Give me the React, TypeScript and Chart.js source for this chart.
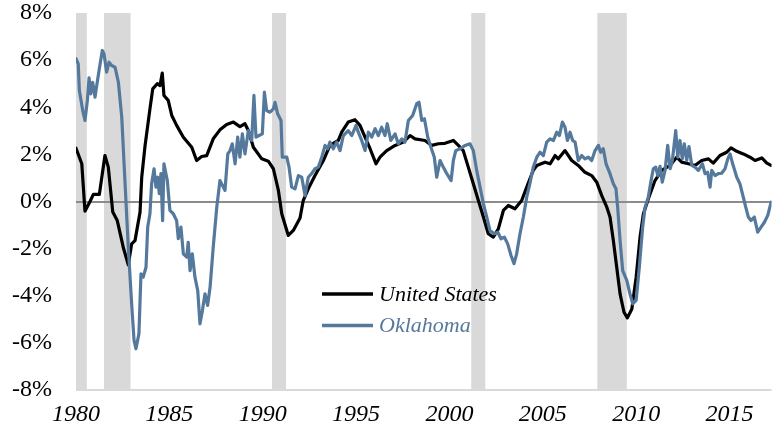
import React, { useEffect, useRef } from 'react';
import { Chart, registerables } from 'chart.js';

Chart.register(...registerables);

// ---------- data ----------
const xTickYears = [1980, 1985, 1990, 1995, 2000, 2005, 2010, 2015];
const yTickValues = [-8, -6, -4, -2, 0, 2, 4, 6, 8];

const recessionStarts = [1980.0, 1981.5, 1990.5, 2001.17, 2007.92];
const recessionEnds = [1980.58, 1982.92, 1991.25, 2001.92, 2009.5];

const seriesNames = ['United States', 'Oklahoma'];

const usYears = [
  1980.00, 1980.31, 1980.48, 1980.75, 1980.93, 1981.25, 1981.55, 1981.73, 1981.97, 1982.21,
  1982.53, 1982.80, 1982.98, 1983.16, 1983.43, 1983.52, 1983.70, 1983.96, 1984.11, 1984.35,
  1984.50, 1984.62, 1984.71, 1984.94, 1985.13, 1985.39, 1985.75, 1986.20, 1986.46, 1986.73,
  1987.00, 1987.35, 1987.71, 1988.07, 1988.43, 1988.78, 1989.05, 1989.23, 1989.50, 1989.95,
  1990.30, 1990.57, 1990.84, 1991.02, 1991.37, 1991.64, 1992.00, 1992.17, 1992.44, 1992.80,
  1993.25, 1993.60, 1994.05, 1994.23, 1994.58, 1994.94, 1995.21, 1995.48, 1995.75, 1996.07,
  1996.28, 1996.64, 1997.09, 1997.53, 1997.89, 1998.16, 1998.69, 1999.05, 1999.41, 1999.76,
  2000.21, 2000.48, 2000.74, 2001.01, 2001.28, 2001.55, 2001.82, 2002.08, 2002.35, 2002.62,
  2002.89, 2003.15, 2003.51, 2003.87, 2004.14, 2004.49, 2004.68, 2005.12, 2005.39, 2005.66,
  2005.83, 2006.19, 2006.55, 2006.90, 2007.26, 2007.62, 2007.89, 2008.16, 2008.43, 2008.60,
  2008.78, 2008.96, 2009.14, 2009.35, 2009.53, 2009.77, 2010.00, 2010.21, 2010.39, 2010.65,
  2011.01, 2011.37, 2011.82, 2012.17, 2012.44, 2012.80, 2013.15, 2013.51, 2013.87, 2014.13,
  2014.49, 2014.85, 2015.08, 2015.39, 2015.74, 2016.10, 2016.37, 2016.73, 2017.00, 2017.23,
];
const usValues = [
  2.26, 1.6, -0.41, 0.0, 0.3, 0.3, 1.95, 1.46, -0.45, -0.81,
  -1.94, -2.69, -1.8, -1.66, -0.45, 1.03, 2.38, 3.93, 4.78, 5.0,
  4.92, 5.45, 4.5, 4.29, 3.65, 3.23, 2.73, 2.3, 1.74, 1.91,
  1.95, 2.66, 3.04, 3.27, 3.37, 3.18, 3.3, 3.01, 2.3, 1.81,
  1.71, 1.39, 0.47, -0.52, -1.44, -1.23, -0.7, 0.04, 0.54, 1.1,
  1.74, 2.38, 2.59, 2.94, 3.37, 3.47, 3.23, 2.73, 2.24, 1.6,
  1.88, 2.16, 2.38, 2.52, 2.8, 2.66, 2.59, 2.38, 2.45, 2.47,
  2.59, 2.38, 2.16, 1.46, 0.75, 0.04, -0.66, -1.37, -1.51, -1.16,
  -0.38, -0.17, -0.31, 0.04, 0.61, 1.32, 1.53, 1.67, 1.6, 1.95,
  1.81, 2.16, 1.74, 1.53, 1.24, 1.1, 0.82, 0.25, -0.24, -0.66,
  -1.66, -2.79, -3.92, -4.7, -4.94, -4.56, -3.21, -1.51, -0.52, 0.11,
  0.89, 1.32, 1.53, 1.88, 1.67, 1.6, 1.53, 1.74, 1.81, 1.63,
  1.95, 2.09, 2.28, 2.13, 2.02, 1.88, 1.74, 1.85, 1.63, 1.53,
];

const okYears = [
  1980.00, 1980.12, 1980.18, 1980.36, 1980.48, 1980.61, 1980.70, 1980.79, 1980.89, 1981.02,
  1981.11, 1981.29, 1981.41, 1981.50, 1981.64, 1981.77, 1981.91, 1982.09, 1982.27, 1982.45,
  1982.62, 1982.80, 1982.98, 1983.11, 1983.21, 1983.37, 1983.48, 1983.60, 1983.75, 1983.84,
  1983.96, 1984.05, 1984.18, 1984.28, 1984.38, 1984.46, 1984.55, 1984.64, 1984.71, 1984.89,
  1985.03, 1985.21, 1985.39, 1985.48, 1985.62, 1985.75, 1985.93, 1986.01, 1986.11, 1986.23,
  1986.37, 1986.52, 1986.64, 1986.77, 1986.91, 1987.05, 1987.18, 1987.35, 1987.54, 1987.71,
  1987.89, 1987.98, 1988.13, 1988.25, 1988.37, 1988.52, 1988.66, 1988.78, 1988.91, 1989.05,
  1989.23, 1989.41, 1989.53, 1989.64, 1989.80, 1989.98, 1990.09, 1990.21, 1990.39, 1990.57,
  1990.66, 1990.80, 1990.98, 1991.05, 1991.29, 1991.41, 1991.55, 1991.73, 1991.91, 1992.09,
  1992.27, 1992.44, 1992.62, 1992.80, 1992.98, 1993.16, 1993.34, 1993.48, 1993.60, 1993.78,
  1993.96, 1994.14, 1994.32, 1994.58, 1994.77, 1995.00, 1995.12, 1995.30, 1995.48, 1995.66,
  1995.84, 1996.02, 1996.19, 1996.37, 1996.55, 1996.67, 1996.86, 1997.09, 1997.26, 1997.45,
  1997.62, 1997.80, 1998.03, 1998.25, 1998.37, 1998.52, 1998.66, 1998.84, 1999.01, 1999.19,
  1999.32, 1999.50, 1999.67, 1999.86, 2000.09, 2000.21, 2000.34, 2000.57, 2000.84, 2001.10,
  2001.28, 2001.46, 2001.64, 2001.82, 2002.00, 2002.17, 2002.40, 2002.59, 2002.76, 2002.94,
  2003.12, 2003.30, 2003.46, 2003.60, 2003.78, 2003.96, 2004.14, 2004.32, 2004.49, 2004.68,
  2004.85, 2005.03, 2005.21, 2005.39, 2005.57, 2005.75, 2005.89, 2006.05, 2006.19, 2006.32,
  2006.46, 2006.60, 2006.73, 2006.90, 2007.09, 2007.26, 2007.44, 2007.62, 2007.80, 2007.98,
  2008.10, 2008.24, 2008.39, 2008.60, 2008.78, 2008.92, 2009.01, 2009.14, 2009.28, 2009.50,
  2009.67, 2009.82, 2010.00, 2010.17, 2010.35, 2010.48, 2010.65, 2010.80, 2010.92, 2011.05,
  2011.16, 2011.28, 2011.40, 2011.55, 2011.69, 2011.82, 2011.94, 2012.12, 2012.23, 2012.35,
  2012.47, 2012.58, 2012.71, 2012.83, 2012.98, 2013.15, 2013.33, 2013.55, 2013.69, 2013.83,
  2013.96, 2014.05, 2014.23, 2014.40, 2014.58, 2014.76, 2014.91, 2015.03, 2015.17, 2015.39,
  2015.56, 2015.74, 2015.87, 2016.01, 2016.15, 2016.33, 2016.51, 2016.69, 2016.87, 2017.05,
  2017.23,
];
const okValues = [
  6.06, 5.84, 4.71, 3.86, 3.44, 4.29, 5.25, 4.57, 5.06, 4.43,
  4.92, 5.84, 6.41, 6.27, 5.49, 5.91, 5.77, 5.7, 5.06, 3.58,
  0.89, -1.94, -4.34, -5.9, -6.25, -5.62, -3.07, -3.21, -2.79, -1.09,
  -0.52, 0.75, 1.39, 0.61, 1.03, 0.33, 1.18, -0.81, 1.6, 0.89,
  -0.38, -0.52, -0.81, -1.58, -1.09, -2.22, -2.36, -1.73, -2.93, -2.22,
  -3.21, -3.78, -5.19, -4.63, -3.92, -4.41, -3.64, -1.94, -0.24, 0.89,
  0.61, 0.47, 2.02, 2.16, 2.45, 1.6, 2.73, 1.88, 2.87, 2.02,
  3.01, 2.59, 4.5, 2.73, 2.8, 2.87, 4.64, 3.86, 3.79, 3.93,
  4.21, 3.72, 3.44, 1.88, 1.88, 1.46, 0.61, 0.54, 1.1, 1.03,
  0.25, 1.03, 1.18, 1.39, 1.46, 1.88, 2.38, 2.24, 2.52, 2.24,
  2.52, 2.16, 2.8, 3.01, 2.8, 3.23, 2.94, 2.59, 2.16, 2.94,
  2.73, 3.09, 2.8, 3.15, 2.8, 3.3, 2.59, 2.87, 2.45, 2.66,
  2.52, 3.44, 3.65, 4.15, 4.21, 3.44, 3.51, 2.73, 2.3, 1.88,
  1.03, 1.74, 1.46, 1.18, 0.89, 1.74, 2.16, 2.24, 2.38, 2.45,
  2.16, 1.32, 0.61, -0.1, -0.66, -1.23, -1.37, -1.3, -1.58, -1.51,
  -1.8, -2.29, -2.64, -2.22, -1.37, -0.66, 0.18, 0.8, 1.46, 1.88,
  2.09, 1.95, 2.52, 2.66, 2.59, 2.94, 2.8, 3.37, 3.15, 2.59,
  2.94, 2.59, 2.52, 1.74, 1.95, 1.81, 1.88, 1.74, 2.16, 2.38,
  2.09, 2.24, 1.6, 1.18, 0.75, 0.54, -0.24, -1.66, -2.93, -3.35,
  -3.92, -4.34, -4.2, -2.79, -1.09, -0.24, 0.18, 0.89, 1.39, 1.46,
  1.1, 1.49, 0.82, 1.32, 2.38, 1.39, 1.74, 3.01, 1.88, 2.59,
  1.81, 2.45, 1.74, 2.33, 1.53, 1.46, 1.32, 1.6, 1.18, 1.24,
  0.61, 1.32, 1.1, 1.18, 1.2, 1.39, 1.81, 2.02, 1.6, 1.03,
  0.75, 0.18, -0.24, -0.66, -0.81, -0.66, -1.3, -1.09, -0.88, -0.59,
  -0.03,
];

// ---------- styles ----------
const US_COLOR = '#000000';
const OK_COLOR = '#55799c';
const BAND_COLOR = '#d9d9d9';
const ZERO_COLOR = '#8c8c8c';
const FONT = '"Liberation Serif", "Times New Roman", serif';

const recessionPlugin = {
  id: 'recessionBands',
  beforeDraw(chart: any) {
    const { ctx, chartArea, scales } = chart;
    const xs = scales.x;
    ctx.save();
    ctx.fillStyle = BAND_COLOR;
    for (let i = 0; i < recessionStarts.length; i++) {
      const x0 = xs.getPixelForValue(recessionStarts[i]);
      const x1 = xs.getPixelForValue(recessionEnds[i]);
      ctx.fillRect(x0, chartArea.top, x1 - x0, chartArea.bottom - chartArea.top);
    }
    ctx.restore();
  },
};

const insideLegendPlugin = {
  id: 'insideLegend',
  afterDatasetsDraw(chart: any) {
    const { ctx, chartArea } = chart;
    const lineX0 = chartArea.left + 246;
    const lineX1 = chartArea.left + 297;
    const textX = chartArea.left + 303;
    const firstY = chartArea.top + 281;
    const gap = 31.5;
    const colors = [US_COLOR, OK_COLOR];
    ctx.save();
    ctx.font = `italic 22px ${FONT}`;
    ctx.textBaseline = 'middle';
    ctx.textAlign = 'left';
    seriesNames.forEach((name, i) => {
      const y = firstY + i * gap;
      ctx.strokeStyle = colors[i];
      ctx.lineWidth = 3.5;
      ctx.beginPath();
      ctx.moveTo(lineX0, y);
      ctx.lineTo(lineX1, y);
      ctx.stroke();
      ctx.fillStyle = colors[i];
      ctx.fillText(name, textX, y + 1);
    });
    ctx.restore();
  },
};

export default function App() {
  const canvasRef = useRef<HTMLCanvasElement | null>(null);

  useEffect(() => {
    const canvas = canvasRef.current;
    if (!canvas) return;
    const chart = new Chart(canvas, {
      type: 'line',
      data: {
        datasets: [
          {
            label: seriesNames[0],
            data: usYears.map((x, i) => ({ x, y: usValues[i] })),
            borderColor: US_COLOR,
            backgroundColor: US_COLOR,
            borderWidth: 3.2,
            pointRadius: 0,
            tension: 0,
            borderJoinStyle: 'round',
            borderCapStyle: 'round',
            order: 1,
          },
          {
            label: seriesNames[1],
            data: okYears.map((x, i) => ({ x, y: okValues[i] })),
            borderColor: OK_COLOR,
            backgroundColor: OK_COLOR,
            borderWidth: 3.2,
            pointRadius: 0,
            tension: 0,
            borderJoinStyle: 'round',
            borderCapStyle: 'round',
            order: 0,
          },
        ],
      },
      options: {
        animation: false,
        responsive: false,
        events: [],
        layout: { padding: { left: 0, right: 4.5, top: 13, bottom: 0 } },
        plugins: {
          legend: { display: false },
          tooltip: { enabled: false },
          title: { display: false },
        },
        scales: {
          x: {
            type: 'linear',
            min: 1980,
            max: 2017.25,
            afterBuildTicks: (s: any) => {
              s.ticks = xTickYears.map((v) => ({ value: v }));
            },
            afterFit: (s: any) => {
              s.height = 42;
            },
            ticks: {
              autoSkip: false,
              maxRotation: 0,
              padding: 0,
              color: '#000',
              font: { family: FONT, size: 24, style: 'italic', lineHeight: 1 },
              callback: (v: any) => String(v),
            },
            grid: { display: false, drawTicks: true, tickLength: 13, tickColor: 'rgba(0,0,0,0)' },
            border: { display: false },
          },
          y: {
            min: -8,
            max: 8,
            afterBuildTicks: (s: any) => {
              s.ticks = yTickValues.map((v) => ({ value: v }));
            },
            afterFit: (s: any) => {
              s.width = 76;
            },
            ticks: {
              padding: 0,
              color: '#000',
              font: { family: FONT, size: 24, lineHeight: 1 },
              callback: (v: any) => `${v}%`,
            },
            grid: {
              drawTicks: true,
              tickLength: 24,
              tickColor: 'rgba(0,0,0,0)',
              lineWidth: 2,
              color: (c: any) =>
                c.tick && c.tick.value === 0
                  ? ZERO_COLOR
                  : c.tick && c.tick.value === -8
                  ? BAND_COLOR
                  : 'rgba(0,0,0,0)',
            },
            border: { display: false },
          },
        },
      },
      plugins: [recessionPlugin, insideLegendPlugin],
    } as any);
    return () => chart.destroy();
  }, []);

  return (
    <div style={{ position: 'fixed', left: 0, top: 0, width: 776, height: 432, background: '#fff' }}>
      <canvas ref={canvasRef} width={776} height={432} style={{ display: 'block' }} />
    </div>
  );
}
